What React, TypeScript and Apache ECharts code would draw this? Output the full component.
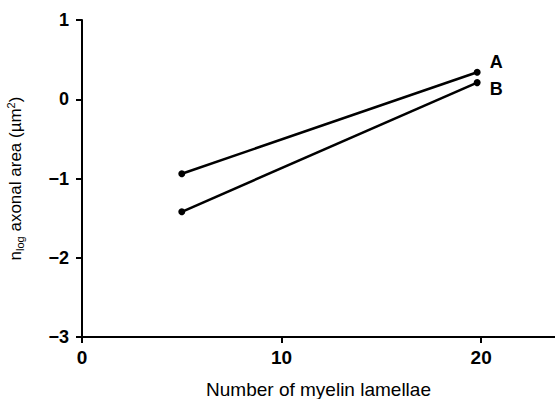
import React, { useEffect, useRef } from "react";
import * as echarts from "echarts";

const lamellae = [5, 19.8];
const seriesA = [-0.94, 0.34];
const seriesB = [-1.42, 0.21];
const seriesNames = ["A", "B"];
const yTicks = [-3, -2, -1, 0, 1];
const xTicks = [0, 10, 20];

export default function App() {
  const ref = useRef<HTMLDivElement>(null);
  useEffect(() => {
    if (!ref.current) return;
    const chart = echarts.init(ref.current, undefined, { renderer: "svg" });
    const font = "'Liberation Sans', Arial, Helvetica, sans-serif";
    const mk = (vals: number[], name: string, offY: number) => ({
      type: "line",
      name,
      data: lamellae.map((x, i) => [x, vals[i]]),
      symbol: "circle",
      symbolSize: 7,
      lineStyle: { color: "#000", width: 2.5 },
      itemStyle: { color: "#000" },
      label: {
        show: true,
        formatter: (p: any) => (p.dataIndex === lamellae.length - 1 ? name : ""),
        position: "right",
        offset: [4, offY],
        color: "#000",
        fontFamily: font,
        fontWeight: "bold",
        fontSize: 18,
      },
    });
    chart.setOption({
      animation: false,
      backgroundColor: "#fff",
      grid: { left: 82, right: 0, top: 20, bottom: 62, containLabel: false, outerBoundsMode: "none" },
      xAxis: {
        type: "value",
        min: 0,
        max: 23.7,
        interval: 10,
        name: "Number of myelin lamellae",
        nameLocation: "middle",
        nameGap: 43,
        nameTextStyle: { color: "#000", fontFamily: font, fontSize: 19 },
        axisLine: { show: true, onZero: false, lineStyle: { color: "#000", width: 2 } },
        axisTick: { show: true, length: 6, lineStyle: { color: "#000", width: 2 } },
        axisLabel: {
          color: "#000",
          fontFamily: font,
          fontWeight: "bold",
          fontSize: 19,
          margin: 11,
          showMaxLabel: false,
          formatter: (v: number) => (xTicks.includes(v) ? String(v) : ""),
        },
        splitLine: { show: false },
      },
      yAxis: {
        type: "value",
        min: -3,
        max: 1,
        interval: 1,
        name: "{n|n}{sub|log}{t| axonal area (µm}{sup|2}{t|)}",
        nameLocation: "middle",
        nameGap: 57,
        nameTextStyle: {
          color: "#000",
          fontFamily: font,
          fontSize: 17,
          rich: {
            n: { fontFamily: font, fontSize: 17, color: "#000" },
            t: { fontFamily: font, fontSize: 17, color: "#000" },
            sub: { fontFamily: font, fontSize: 11, color: "#000", verticalAlign: "bottom", padding: [9, 0, 0, 0] },
            sup: { fontFamily: font, fontSize: 11, color: "#000", verticalAlign: "top", padding: [0, 0, 9, 0] },
          },
        },
        axisLine: { show: true, lineStyle: { color: "#000", width: 2 } },
        axisTick: { show: true, length: 6, lineStyle: { color: "#000", width: 2 } },
        axisLabel: {
          color: "#000",
          fontFamily: font,
          fontWeight: "bold",
          fontSize: 18,
          margin: 13,
          formatter: (v: number) => (yTicks.includes(v) ? (v < 0 ? "\u2212" + Math.abs(v) : String(v)) : ""),
        },
        splitLine: { show: false },
      },
      series: [mk(seriesA, seriesNames[0], -10), mk(seriesB, seriesNames[1], 6)],
    });
    return () => chart.dispose();
  }, []);
  return <div ref={ref} style={{ width: 555, height: 399, position: "absolute", left: 0, top: 0 }} />;
}
